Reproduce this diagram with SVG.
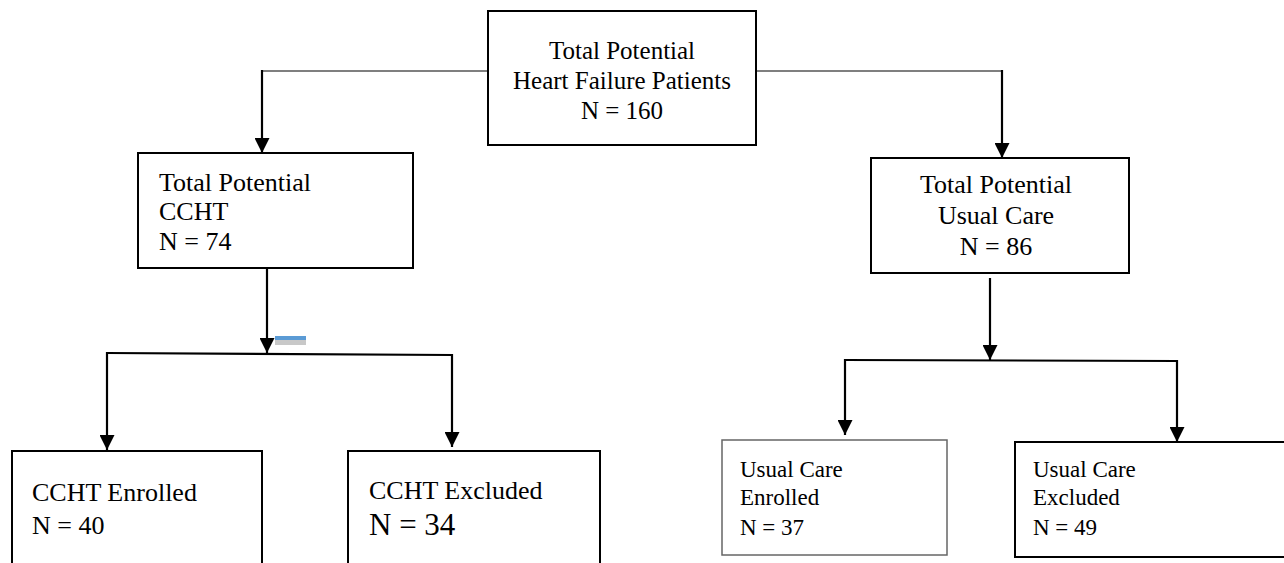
<svg xmlns="http://www.w3.org/2000/svg" width="1284" height="563" viewBox="0 0 1284 563">
<style>
.box{fill:#fff;stroke:#000;stroke-width:2}
.box2{fill:#fff;stroke:#666;stroke-width:1.5}
.t{font-family:"Liberation Serif","Times New Roman",serif;font-size:26px;fill:#000}
.m{font-size:23px}
.c{text-anchor:middle}
.ln{fill:none;stroke:#000;stroke-width:2.2}
.thin{fill:none;stroke:#000;stroke-width:1.2}
</style>
<defs>
<marker id="ahb" viewBox="0 0 10 10" refX="10" refY="5" markerWidth="15" markerHeight="15" markerUnits="userSpaceOnUse" orient="auto">
<path d="M0,0 L10,5 L0,10 Z" fill="#000"/>
</marker>
</defs>
<g id="connectors">
<path class="thin" d="M488,71 H262"/>
<path class="ln" d="M262,70 V153" marker-end="url(#ahb)"/>
<path class="thin" d="M756,71 H1002"/>
<path class="ln" d="M1002,70 V158" marker-end="url(#ahb)"/>
<path class="ln" d="M267,268 V353" marker-end="url(#ahb)"/>
<path class="ln" d="M107,353 L452,355"/>
<path class="ln" d="M107,352 V450" marker-end="url(#ahb)"/>
<path class="ln" d="M452,354 V447" marker-end="url(#ahb)"/>
<path class="ln" d="M990,278 V360" marker-end="url(#ahb)"/>
<path class="ln" d="M845,360 L1177,361"/>
<path class="ln" d="M845,359 V435" marker-end="url(#ahb)"/>
<path class="ln" d="M1177,360 V442" marker-end="url(#ahb)"/>
<rect x="275" y="340" width="31" height="5" fill="#c8c8c8"/>
<rect x="275" y="336" width="31" height="4" fill="#5b9bd5"/>
</g>
<g id="top">
<rect class="box" x="488" y="11" width="268" height="134"/>
<text class="t c" x="622" y="59" style="font-size:25px">Total Potential</text>
<text class="t c" x="622" y="89" style="font-size:25px">Heart Failure Patients</text>
<text class="t c" x="622" y="119" style="font-size:25px">N = 160</text>
</g>
<g id="cchtTotal">
<rect class="box" x="138" y="153" width="275" height="115"/>
<text class="t" x="159" y="191">Total Potential</text>
<text class="t" x="159" y="220">CCHT</text>
<text class="t" x="159" y="250">N = 74</text>
</g>
<g id="ucTotal">
<rect class="box" x="871" y="158" width="258" height="115"/>
<text class="t c" x="996" y="193">Total Potential</text>
<text class="t c" x="996" y="224">Usual Care</text>
<text class="t c" x="996" y="255">N = 86</text>
</g>
<g id="cchtEnrolled">
<rect class="box" x="12" y="451" width="250" height="120"/>
<text class="t" x="32" y="501">CCHT Enrolled</text>
<text class="t" x="32" y="534">N = 40</text>
</g>
<g id="cchtExcluded">
<rect class="box" x="348" y="451" width="252" height="120"/>
<text class="t" x="369" y="499">CCHT Excluded</text>
<text class="t" x="369" y="535" style="font-size:31px">N = 34</text>
</g>
<g id="ucEnrolled">
<rect class="box2" x="722" y="440" width="225" height="115"/>
<text class="t m" x="740" y="477">Usual Care</text>
<text class="t m" x="740" y="505">Enrolled</text>
<text class="t m" x="740" y="535">N = 37</text>
</g>
<g id="ucExcluded">
<rect class="box" x="1015" y="442" width="275" height="115"/>
<text class="t m" x="1033" y="477">Usual Care</text>
<text class="t m" x="1033" y="505">Excluded</text>
<text class="t m" x="1033" y="535">N = 49</text>
</g>
</svg>
